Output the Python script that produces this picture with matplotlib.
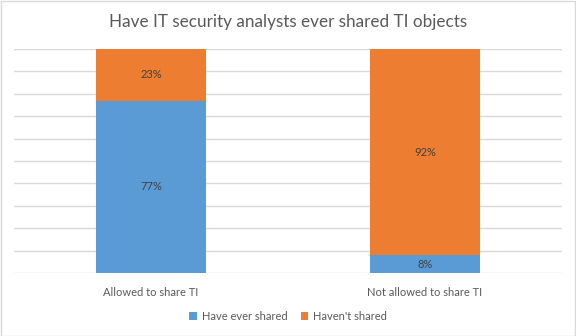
import numpy as np
import matplotlib.pyplot as plt

categories = ["Allowed to share TI", "Not allowed to share TI"]
have_shared = [77, 8]
havent_shared = [23, 92]
series_names = ["Have ever shared", "Haven't shared"]

plt.rcParams['font.family'] = ['Lato', 'DejaVu Sans']

fig = plt.figure(figsize=(5.76, 3.36), dpi=100)
ax = fig.add_axes([14/576, 63/336, 548/576, 224/336])

x = np.arange(len(categories))
blue = '#5B9BD5'
orange = '#ED7D31'
b1 = ax.bar(x, have_shared, width=0.4, color=blue, label=series_names[0], zorder=3)
b2 = ax.bar(x, havent_shared, width=0.4, bottom=have_shared, color=orange,
            label=series_names[1], zorder=3)

for bars, vals, bottoms in [(b1, have_shared, [0, 0]), (b2, havent_shared, have_shared)]:
    for rect, v, b in zip(bars, vals, bottoms):
        ax.text(rect.get_x() + rect.get_width() / 2, b + v / 2, f"{v}%",
                ha='center', va='center', fontsize=8, color='#404040', zorder=4)

ax.set_xlim(-0.5, 1.5)
ax.set_ylim(0, 100)
ax.set_yticks(np.arange(0, 101, 10))
ax.set_yticklabels([])
ax.tick_params(axis='y', length=0)
ax.set_xticks(x)
ax.set_xticklabels(categories, fontsize=8, color='#595959')
ax.tick_params(axis='x', length=0, pad=10)
ax.grid(axis='y', color='#D9D9D9', linewidth=1, zorder=0)
for s in ax.spines.values():
    s.set_visible(False)

fig.text(0.5, 1 - 22/336, "Have IT security analysts ever shared TI objects",
         ha='center', va='center', fontsize=12.3, color='#595959')

fig.legend(loc='center', bbox_to_anchor=(0.5, 1 - 316/336), ncol=2, frameon=False,
           fontsize=8, handlelength=0.7, handleheight=0.7, columnspacing=1.2,
           handletextpad=0.4, labelcolor='#595959')

fig.patches.append(plt.Rectangle((0.001, 0.001), 0.997, 0.997, transform=fig.transFigure,
                                 fill=False, edgecolor='#D9D9D9', linewidth=1))

fig.savefig('out.png', dpi=100)
